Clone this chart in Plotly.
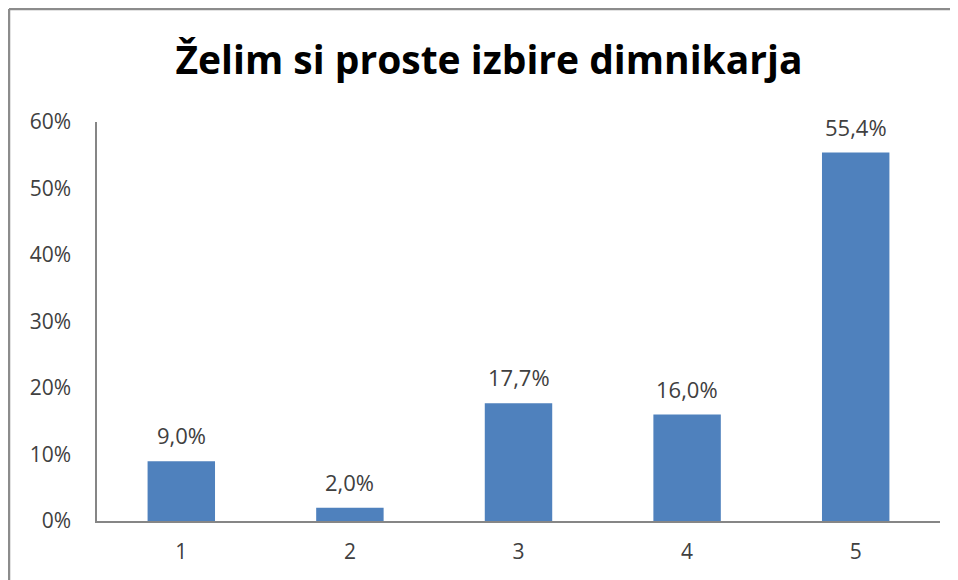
import plotly.graph_objects as go

categories = ["1", "2", "3", "4", "5"]
values = [0.090, 0.020, 0.177, 0.160, 0.554]
tick_vals = [0, 0.1, 0.2, 0.3, 0.4, 0.5, 0.6]
tick_text = ["0%", "10%", "20%", "30%", "40%", "50%", "60%"]
title_text = "Želim si proste izbire dimnikarja"

# page has an 8px body margin, so the figure is offset by 8px
OFF = 8
W, H = 958 - OFF, 580 - OFF
L, R, T, B = 97 - OFF, 18, 122 - OFF, 59
pw, ph = W - L - R, H - T - B

fig = go.Figure()
fig.add_trace(go.Bar(
    x=categories, y=values,
    marker=dict(color="#4F81BD", line=dict(width=0)),
    hoverinfo="skip",
))

for i, v in enumerate(values):
    fig.add_annotation(
        x=i, y=v, xref="x", yref="y",
        text=f"{v*100:.1f}".replace(".", ",") + "%",
        showarrow=False, yanchor="bottom", yshift=9,
        font=dict(family="Open Sans", size=22, color="#404040"),
    )

# outer chart frame (left and top edges visible)
fx = (9 - OFF - L) / pw
fy = 1 + (T - (9 - OFF)) / ph
fig.add_shape(type="line", xref="paper", yref="paper",
              x0=fx, x1=fx, y0=-0.5, y1=fy,
              line=dict(color="#8C8C8C", width=2.5))
fig.add_shape(type="line", xref="paper", yref="paper",
              x0=fx, x1=1.5, y0=fy, y1=fy,
              line=dict(color="#8C8C8C", width=2.5))

fig.update_layout(
    width=W, height=H,
    margin=dict(l=L, r=R, t=T, b=B, pad=0),
    paper_bgcolor="white", plot_bgcolor="white",
    showlegend=False,
    bargap=0.6,
    title=dict(
        text=f"<b>{title_text}</b>",
        x=(489 - OFF) / W, xanchor="center", y=1 - (60 - OFF) / H, yanchor="middle",
        font=dict(family="Open Sans", size=39, color="#000000"),
    ),
    xaxis=dict(
        type="category", showline=True, linecolor="#868686", linewidth=1.5,
        showgrid=False, ticks="", zeroline=False,
        tickfont=dict(family="Open Sans", size=21, color="#404040"),
        ticklabelstandoff=11,
    ),
    yaxis=dict(
        range=[0, 0.6], tickvals=tick_vals, ticktext=tick_text,
        showline=True, linecolor="#868686", linewidth=1.5,
        showgrid=False, ticks="", zeroline=False,
        tickfont=dict(family="Open Sans", size=21, color="#404040"),
        ticklabelstandoff=20,
    ),
)

fig.write_html("out.html")
